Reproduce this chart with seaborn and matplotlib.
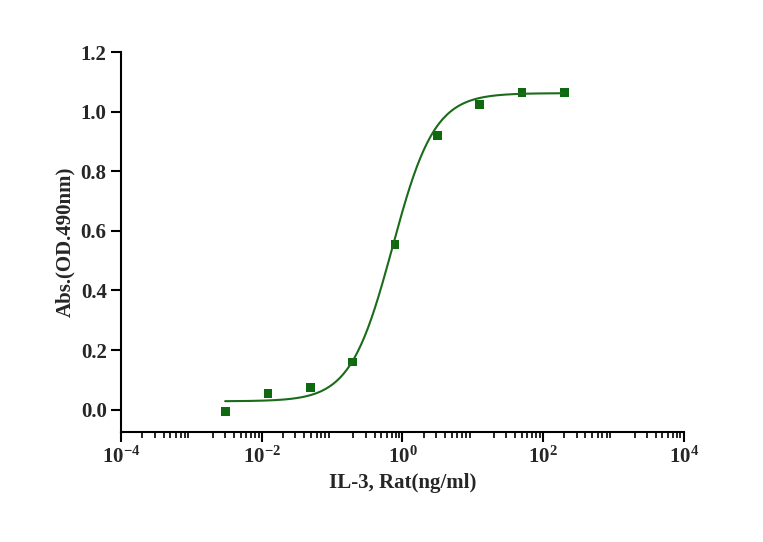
import numpy as np
import matplotlib
matplotlib.use("Agg")
import matplotlib.pyplot as plt
import seaborn as sns
from matplotlib.ticker import LogLocator, NullFormatter

conc = [0.003, 0.0122, 0.0488, 0.195, 0.781, 3.125, 12.5, 50, 200]
absorb = [-0.005, 0.055, 0.075, 0.16, 0.555, 0.92, 1.025, 1.065, 1.065]
# 4PL fit parameters (bottom, top, EC50, hill)
fit_params = [0.028, 1.062, 0.72, 1.45]
xtick_labels = [r"$\mathrm{10^{-4}}$", r"$\mathrm{10^{-2}}$", r"$\mathrm{10^{0}}$", r"$\mathrm{10^{2}}$", r"$\mathrm{10^{4}}$"]

sns.set_theme(style="ticks")
plt.rcParams["font.family"] = "Liberation Serif"
plt.rcParams["font.weight"] = "bold"
plt.rcParams["mathtext.fontset"] = "custom"
plt.rcParams["mathtext.rm"] = "Liberation Serif:bold"
plt.rcParams["mathtext.bf"] = "Liberation Serif:bold"
plt.rcParams["mathtext.default"] = "rm"
fig = plt.figure(figsize=(7.63, 5.42), dpi=100)
ax = fig.add_axes([0.159, 0.203, 0.737, 0.701])

b, t, ec, h = fit_params
xs = np.logspace(np.log10(conc[0]), np.log10(conc[-1]), 300)
ys = b + (t - b) / (1 + (ec / xs) ** h)
green = "#1a6b1a"
sns.lineplot(x=xs, y=ys, ax=ax, color=green, lw=1.5)
sns.scatterplot(x=conc, y=absorb, ax=ax, color="#0f6a0f", marker="s", s=40, edgecolor="none")

ax.set_xscale("log")
ax.set_xlim(1e-4, 1e4)
ax.set_ylim(-0.075, 1.2)
ax.set_yticks(np.arange(0, 1.21, 0.2))
ax.set_yticklabels([f"{v:.1f}" for v in np.arange(0, 1.21, 0.2)])
ax.set_xticks([1e-4, 1e-2, 1, 1e2, 1e4])
ax.set_xticklabels(xtick_labels)
ax.xaxis.set_minor_locator(LogLocator(base=10, subs=np.arange(2, 10), numticks=100))
ax.xaxis.set_minor_formatter(NullFormatter())
ax.tick_params(axis="both", which="major", labelsize=15, width=1.5, length=7, color="black")
ax.tick_params(axis="x", which="minor", width=1.2, length=4, color="black")
for lab in ax.get_yticklabels():
    lab.set_fontweight("bold")
for s in ["top", "right"]:
    ax.spines[s].set_visible(False)
for s in ["left", "bottom"]:
    ax.spines[s].set_linewidth(1.5)
    ax.spines[s].set_color("black")
ax.set_xlabel("IL-3, Rat(ng/ml)", fontsize=15, fontweight="bold")
ax.set_ylabel("Abs.(OD.490nm)", fontsize=15, fontweight="bold")
fig.savefig("out.png", dpi=100)
